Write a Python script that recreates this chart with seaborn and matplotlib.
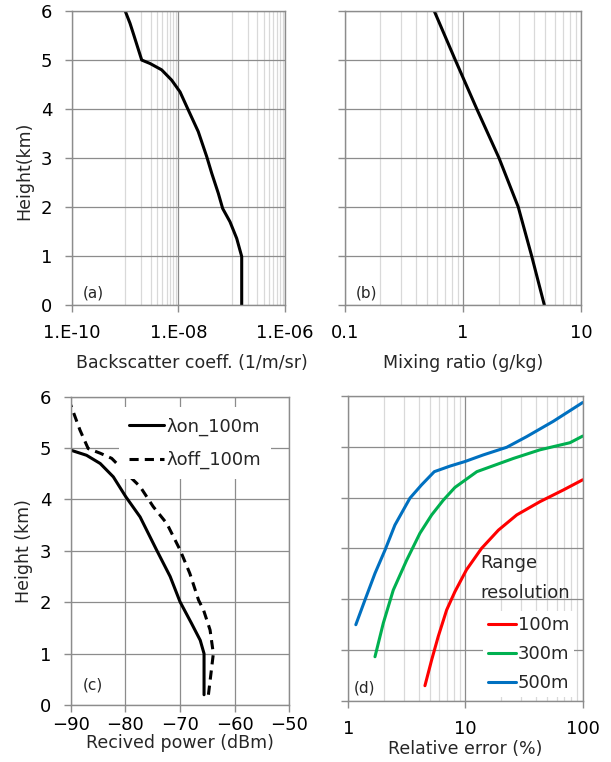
import numpy as np
import pandas as pd
import seaborn as sns
import matplotlib
matplotlib.use("Agg")
import matplotlib.pyplot as plt
from matplotlib.ticker import FixedLocator, FuncFormatter, NullFormatter

# ---------- data ----------
# (a) backscatter coefficient profile
bsc_height = [0.0, 0.99, 1.36, 1.70, 1.97, 2.28, 2.69, 3.03, 3.54, 3.98, 4.35, 4.59, 4.80, 4.93, 5.0,
              5.54, 5.75, 6.0]
bsc_value = [1.54e-7, 1.54e-7, 1.24e-7, 9.27e-8, 6.76e-8, 5.60e-8, 4.21e-8, 3.39e-8, 2.35e-8, 1.53e-8,
             1.07e-8, 7.45e-9, 4.83e-9, 2.92e-9, 2.04e-9, 1.42e-9, 1.23e-9, 1.0e-9]

# (b) water vapour mixing ratio profile
mix_height = [0, 1, 2, 3, 4, 5, 6]
mix_value = [4.89, 3.82, 2.94, 2.02, 1.31, 0.861, 0.571]

# (c) received power
on_height = [0.2, 1.0, 1.26, 1.59, 2.01, 2.5, 3.02, 3.66, 4.05, 4.44, 4.70, 4.86, 4.96]
on_power = [-65.6, -65.6, -66.3, -67.9, -70.0, -71.8, -74.3, -77.3, -79.9, -82.2, -84.6, -87.1, -90.0]
off_height = [0.2, 1.0, 1.46, 1.85, 2.04, 2.56, 3.02, 3.53, 3.86, 4.25, 4.51, 4.80, 4.90, 4.99, 5.35, 5.84]
off_power = [-64.8, -63.9, -64.5, -65.7, -66.6, -68.2, -70.0, -72.4, -74.9, -77.3, -79.8, -82.5, -84.6,
             -86.8, -88.3, -90.0]

# (d) relative error per range resolution
err_100_height = [0.30, 0.81, 1.27, 1.79, 2.15, 2.58, 3.00, 3.36, 3.66, 3.92, 4.15, 4.35]
err_100 = [4.51, 5.15, 5.86, 6.91, 8.13, 10.2, 13.7, 19.1, 27.4, 43.2, 68.4, 100]
err_300_height = [0.87, 1.53, 2.18, 2.77, 3.30, 3.66, 3.95, 4.20, 4.51, 4.77, 4.94, 5.08, 5.21]
err_300 = [1.69, 1.99, 2.42, 3.15, 4.09, 5.15, 6.47, 8.13, 12.5, 25.6, 43.2, 78.0, 100]
err_500_height = [1.50, 1.99, 2.51, 2.97, 3.46, 3.99, 4.25, 4.51, 4.62, 4.71, 4.84, 4.99, 5.20, 5.50, 5.87]
err_500 = [1.16, 1.39, 1.69, 2.06, 2.50, 3.36, 4.22, 5.42, 7.38, 9.91, 14.2, 22.5, 33.3, 56.1, 100]

# ---------- style ----------
sns.set_theme(style="white")
plt.rcParams["font.family"] = ["DejaVu Sans"]
plt.rcParams["font.size"] = 12

MAJOR = "#8c8c8c"
MINOR = "#d9d9d9"
FS_LABEL = 12.5
FS_TICK = 13
FS_LEG = 13


def style_axes(ax, xpad, ylabels=True):
    for s in ax.spines.values():
        s.set_color(MAJOR)
        s.set_linewidth(1.0)
    ax.set_axisbelow(True)
    ax.grid(which="major", color=MAJOR, linewidth=0.9)
    ax.grid(which="minor", axis="x", color=MINOR, linewidth=0.9)
    ax.set_ylim(0, 6)
    ax.yaxis.set_major_locator(FixedLocator(range(7)))
    ax.tick_params(axis="both", which="major", direction="out", length=5, width=1.0,
                   color=MAJOR, labelsize=FS_TICK, labelcolor="black",
                   bottom=True, left=True)
    ax.tick_params(axis="x", pad=xpad)
    ax.tick_params(axis="y", pad=9)
    ax.tick_params(which="minor", length=0)
    if not ylabels:
        ax.yaxis.set_major_formatter(NullFormatter())


def log_minor(lo_exp, hi_exp, step):
    # minor grid positions between major ticks of a log axis
    pos = []
    for e in range(lo_exp, hi_exp, step):
        base = 10.0 ** (e + step - 1)
        pos += [base * k for k in range(1, 10)]
    return pos


fig = plt.figure(figsize=(6.11, 7.62), dpi=100)
ax_a = fig.add_axes([0.1178, 0.5997, 0.3486, 0.3858])
ax_b = fig.add_axes([0.5646, 0.5997, 0.3863, 0.3858])
ax_c = fig.add_axes([0.1157, 0.0748, 0.3578, 0.4046])
ax_d = fig.add_axes([0.5700, 0.0801, 0.3836, 0.4003])

# ---- (a) ----
df_a = pd.DataFrame({"value": bsc_value, "height": bsc_height})
sns.lineplot(data=df_a, x="value", y="height", sort=False, estimator=None,
             color="black", linewidth=2.2, ax=ax_a)
ax_a.set_xscale("log")
ax_a.set_xlim(1e-10, 1e-6)
ax_a.xaxis.set_major_locator(FixedLocator([1e-10, 1e-8, 1e-6]))
ax_a.xaxis.set_minor_locator(FixedLocator(log_minor(-10, -6, 2)))
ax_a.xaxis.set_major_formatter(FuncFormatter(lambda v, p: f"1.E{int(round(np.log10(v))):03d}"))
ax_a.xaxis.set_minor_formatter(NullFormatter())
style_axes(ax_a, xpad=9)
ax_a.set_xlabel("Backscatter coeff. (1/m/sr)", fontsize=FS_LABEL)
ax_a.set_ylabel("Height(km)", fontsize=FS_LABEL)
ax_a.xaxis.set_label_coords(0.561, -0.165)
ax_a.yaxis.set_label_coords(-0.183, 0.456)
ax_a.text(0.099, 0.041, "(a)", transform=ax_a.transAxes, fontsize=11, ha="center", va="center")

# ---- (b) ----
df_b = pd.DataFrame({"value": mix_value, "height": mix_height})
sns.lineplot(data=df_b, x="value", y="height", sort=False, estimator=None,
             color="black", linewidth=2.2, ax=ax_b)
ax_b.set_xscale("log")
ax_b.set_xlim(0.1, 10)
ax_b.xaxis.set_major_locator(FixedLocator([0.1, 1, 10]))
ax_b.xaxis.set_minor_locator(FixedLocator([k * 0.1 for k in range(2, 10)] + list(range(2, 10))))
ax_b.xaxis.set_major_formatter(FuncFormatter(lambda v, p: f"{v:g}"))
ax_b.xaxis.set_minor_formatter(NullFormatter())
style_axes(ax_b, xpad=9, ylabels=False)
ax_b.set_xlabel("Mixing ratio (g/kg)", fontsize=FS_LABEL)
ax_b.set_ylabel("")
ax_b.xaxis.set_label_coords(0.5, -0.165)
ax_b.text(0.092, 0.040, "(b)", transform=ax_b.transAxes, fontsize=11, ha="center", va="center")

# ---- (c) ----
df_c = pd.concat([
    pd.DataFrame({"power": on_power, "height": on_height, "series": "λon_100m"}),
    pd.DataFrame({"power": off_power, "height": off_height, "series": "λoff_100m"}),
], ignore_index=True)
sns.lineplot(data=df_c, x="power", y="height", style="series", sort=False, estimator=None,
             dashes={"λon_100m": "", "λoff_100m": (3, 2)}, color="black", linewidth=2.2, ax=ax_c)
ax_c.set_xlim(-90, -50)
ax_c.xaxis.set_major_locator(FixedLocator([-90, -80, -70, -60, -50]))
style_axes(ax_c, xpad=3)
ax_c.set_xlabel("Recived power (dBm)", fontsize=FS_LABEL)
ax_c.set_ylabel("Height (km)", fontsize=FS_LABEL)
ax_c.xaxis.set_label_coords(0.5, -0.093)
ax_c.yaxis.set_label_coords(-0.171, 0.5)
handles, labels = ax_c.get_legend_handles_labels()
for h in handles:
    h.set_linewidth(2.2)
ax_c.legend(handles, labels, loc="upper right", bbox_to_anchor=(0.915, 0.965), fontsize=FS_LEG,
            frameon=True, facecolor="white", edgecolor="none", framealpha=1, fancybox=False,
            handlelength=1.95, handletextpad=0.1, labelspacing=0.85, borderpad=0.55, borderaxespad=0)
ax_c.text(0.102, 0.065, "(c)", transform=ax_c.transAxes, fontsize=11, ha="center", va="center")

# ---- (d) ----
df_d = pd.concat([
    pd.DataFrame({"err": err_100, "height": err_100_height, "res": "100m"}),
    pd.DataFrame({"err": err_300, "height": err_300_height, "res": "300m"}),
    pd.DataFrame({"err": err_500, "height": err_500_height, "res": "500m"}),
], ignore_index=True)
palette = {"100m": "#ff0000", "300m": "#00b050", "500m": "#0070c0"}
sns.lineplot(data=df_d, x="err", y="height", hue="res", palette=palette, sort=False,
             estimator=None, linewidth=2.2, ax=ax_d)
ax_d.set_xscale("log")
ax_d.set_xlim(1, 100)
ax_d.xaxis.set_major_locator(FixedLocator([1, 10, 100]))
ax_d.xaxis.set_minor_locator(FixedLocator(list(range(2, 10)) + list(range(20, 100, 10))))
ax_d.xaxis.set_major_formatter(FuncFormatter(lambda v, p: f"{v:g}"))
ax_d.xaxis.set_minor_formatter(NullFormatter())
style_axes(ax_d, xpad=9, ylabels=False)
ax_d.set_xlabel("Relative error (%)", fontsize=FS_LABEL)
ax_d.set_ylabel("")
ax_d.xaxis.set_label_coords(0.5, -0.128)
handles, labels = ax_d.get_legend_handles_labels()
for h in handles:
    h.set_linewidth(2.2)
ax_d.legend(handles, labels, loc="lower right", bbox_to_anchor=(0.965, 0.012), fontsize=FS_LEG,
            frameon=True, facecolor="white", edgecolor="none", framealpha=1, fancybox=False,
            handlelength=1.55, handletextpad=0.08, labelspacing=0.6, borderpad=0.3, borderaxespad=0)
ax_d.text(0.562, 0.435, "Range", transform=ax_d.transAxes, fontsize=FS_LEG, ha="left", va="baseline")
ax_d.text(0.562, 0.337, "resolution", transform=ax_d.transAxes, fontsize=FS_LEG, ha="left", va="baseline")
ax_d.text(0.07, 0.042, "(d)", transform=ax_d.transAxes, fontsize=11, ha="center", va="center")

fig.savefig("out.png", dpi=100)
